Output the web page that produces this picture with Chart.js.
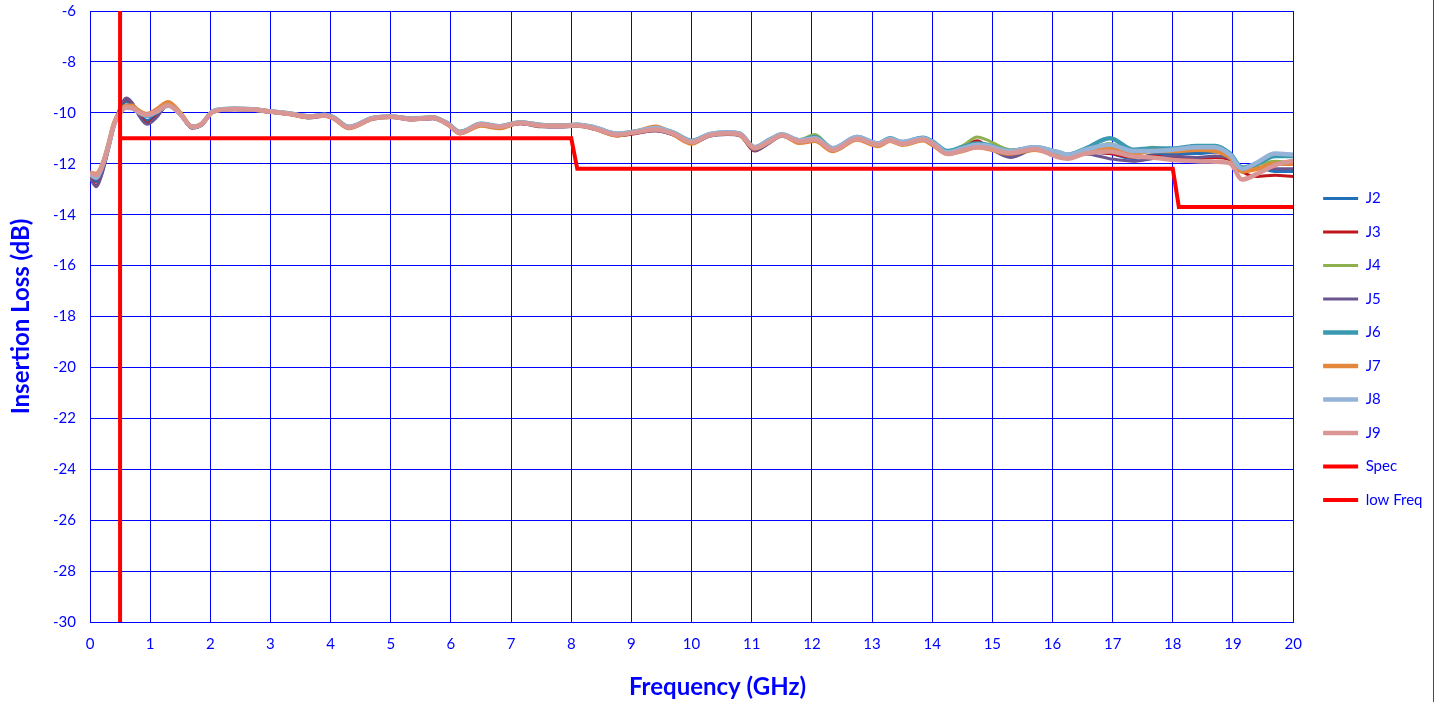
<!DOCTYPE html>
<html>
<head>
<meta charset="utf-8">
<script src="https://cdn.jsdelivr.net/npm/chart.js@4.4.1/dist/chart.umd.min.js"></script>
<style>
  html, body { margin: 0; padding: 0; background: #fff; }
  #wrap { position: relative; width: 1433px; height: 702px; border-right: 1px solid #3333ff; }
</style>
</head>
<body>
<div id="wrap"><canvas id="lossChart"></canvas></div>
<script>
// frequency points (GHz) shared by the J traces
const freq = [0, 0.1, 0.2, 0.3, 0.4, 0.5, 0.6, 0.7, 0.8, 0.95, 1.1, 1.3, 1.5, 1.7, 1.85,
  2.05, 2.4, 2.7, 3.0, 3.35, 3.65, 3.9, 4.05, 4.3, 4.7, 5.0, 5.35, 5.7, 5.95, 6.15, 6.5, 6.8, 7.15, 7.5, 7.8, 8.1,
  8.4, 8.75, 9.1, 9.4, 9.7, 10.0, 10.3, 10.6, 10.8, 11.05, 11.3, 11.5, 11.8, 12.05, 12.35, 12.75, 13.1, 13.3, 13.5, 13.85, 14.0,
  14.25, 14.5, 14.75, 14.9, 15.3, 15.7, 16.1, 16.25, 16.55,
  16.95, 17.35, 17.65, 18.0, 18.4, 18.7, 18.95, 19.15, 19.4, 19.7, 20.0];

// insertion loss (dB) per port
const j2 = [-12.45, -12.7, -12.25, -11.4, -10.45, -9.85, -9.55, -9.7, -10.0, -10.3, -10.1, -9.7, -10.05, -10.58, -10.48,
  -9.95, -9.86, -9.88, -9.97, -10.07, -10.17, -10.12, -10.22, -10.6, -10.22, -10.16, -10.26, -10.22, -10.47, -10.8, -10.47, -10.56, -10.42, -10.52, -10.54, -10.52,
  -10.64, -10.88, -10.77, -10.68, -10.85, -11.18, -10.9, -10.82, -10.87, -11.45, -11.15, -10.9, -11.15, -11.02, -11.5, -11.0, -11.27, -11.05, -11.2, -11.03, -11.18,
  -11.55, -11.4, -11.25, -11.3, -11.62, -11.45, -11.68, -11.78, -11.55,
  -11.6, -11.8, -11.65, -11.6, -11.6, -11.55, -11.7, -12.25, -12.15, -12.3, -12.3];
const j3 = [-12.5, -12.85, -12.35, -11.45, -10.48, -9.82, -9.45, -9.62, -10.0, -10.4, -10.15, -9.68, -10.05, -10.6, -10.5,
  -9.97, -9.87, -9.9, -9.98, -10.08, -10.18, -10.12, -10.22, -10.6, -10.23, -10.17, -10.27, -10.22, -10.47, -10.82, -10.47, -10.57, -10.43, -10.53, -10.55, -10.52,
  -10.64, -10.9, -10.8, -10.7, -10.86, -11.2, -10.9, -10.83, -10.88, -11.5, -11.15, -10.9, -11.1, -10.92, -11.45, -11.0, -11.25, -11.05, -11.2, -11.02, -11.15,
  -11.5, -11.35, -11.1, -11.3, -11.7, -11.42, -11.72, -11.8, -11.55,
  -11.6, -11.75, -11.7, -11.75, -11.8, -11.75, -11.85, -12.3, -12.5, -12.45, -12.5];
const j4 = [-12.4, -12.5, -12.1, -11.35, -10.45, -9.95, -9.7, -9.75, -9.95, -10.1, -9.95, -9.6, -10.02, -10.55, -10.45,
  -9.94, -9.85, -9.87, -9.95, -10.05, -10.15, -10.1, -10.2, -10.55, -10.2, -10.15, -10.25, -10.2, -10.43, -10.72, -10.45, -10.55, -10.4, -10.5, -10.5, -10.48,
  -10.6, -10.83, -10.73, -10.62, -10.8, -11.12, -10.85, -10.78, -10.83, -11.35, -11.08, -10.85, -11.05, -10.85, -11.4, -10.98, -11.22, -11.05, -11.18, -11.0, -11.15,
  -11.5, -11.3, -10.95, -11.05, -11.45, -11.38, -11.6, -11.7, -11.5,
  -11.2, -11.55, -11.35, -11.45, -11.45, -11.5, -11.7, -12.2, -12.05, -11.9, -11.95];
const j5 = [-12.55, -12.9, -12.4, -11.5, -10.5, -9.8, -9.42, -9.6, -10.05, -10.45, -10.2, -9.68, -10.05, -10.6, -10.5,
  -9.97, -9.88, -9.9, -9.98, -10.08, -10.2, -10.13, -10.23, -10.6, -10.25, -10.18, -10.28, -10.23, -10.48, -10.8, -10.48, -10.57, -10.42, -10.55, -10.56, -10.53,
  -10.66, -10.9, -10.78, -10.7, -10.87, -11.2, -10.92, -10.85, -10.9, -11.48, -11.18, -10.92, -11.15, -11.05, -11.48, -11.05, -11.28, -11.1, -11.25, -11.08, -11.22,
  -11.6, -11.45, -11.3, -11.35, -11.75, -11.45, -11.7, -11.8, -11.62,
  -11.8, -11.9, -11.8, -11.7, -11.75, -11.7, -11.8, -12.3, -12.2, -12.2, -12.2];
const j6 = [-12.4, -12.55, -12.15, -11.38, -10.45, -9.95, -9.72, -9.78, -9.97, -10.12, -9.97, -9.68, -10.05, -10.55, -10.45,
  -9.93, -9.84, -9.86, -9.94, -10.04, -10.14, -10.08, -10.18, -10.55, -10.2, -10.14, -10.23, -10.18, -10.42, -10.75, -10.43, -10.53, -10.38, -10.48, -10.5, -10.47,
  -10.58, -10.82, -10.72, -10.62, -10.78, -11.1, -10.84, -10.77, -10.82, -11.35, -11.05, -10.85, -11.08, -10.95, -11.4, -10.95, -11.2, -11.0, -11.15, -10.98, -11.12,
  -11.5, -11.35, -11.2, -11.25, -11.5, -11.35, -11.55, -11.65, -11.4,
  -11.0, -11.45, -11.4, -11.4, -11.3, -11.3, -11.6, -12.15, -12.0, -11.7, -11.7];
const j7 = [-12.35, -12.4, -12.05, -11.3, -10.4, -9.95, -9.72, -9.72, -9.9, -10.05, -9.88, -9.58, -10.0, -10.55, -10.45,
  -9.95, -9.85, -9.86, -9.95, -10.06, -10.16, -10.1, -10.22, -10.6, -10.22, -10.15, -10.24, -10.18, -10.46, -10.8, -10.5, -10.6, -10.38, -10.5, -10.5, -10.48,
  -10.63, -10.88, -10.72, -10.55, -10.85, -11.2, -10.85, -10.8, -10.86, -11.4, -11.12, -10.88, -11.18, -11.1, -11.5, -11.05, -11.3, -11.1, -11.25, -11.08, -11.25,
  -11.6, -11.5, -11.35, -11.4, -11.6, -11.45, -11.7, -11.75, -11.55,
  -11.4, -11.6, -11.5, -11.5, -11.45, -11.5, -11.75, -12.3, -12.2, -12.0, -12.0];
const j8 = [-12.4, -12.55, -12.1, -11.35, -10.45, -10.0, -9.8, -9.82, -9.97, -10.1, -9.97, -9.72, -10.05, -10.55, -10.45,
  -9.93, -9.84, -9.86, -9.95, -10.04, -10.14, -10.09, -10.19, -10.56, -10.2, -10.14, -10.24, -10.19, -10.43, -10.76, -10.44, -10.53, -10.38, -10.48, -10.5, -10.47,
  -10.58, -10.82, -10.72, -10.6, -10.78, -11.12, -10.84, -10.76, -10.82, -11.35, -11.06, -10.84, -11.08, -11.0, -11.38, -10.95, -11.2, -11.02, -11.15, -11.0, -11.15,
  -11.55, -11.4, -11.25, -11.28, -11.5, -11.35, -11.55, -11.65, -11.45,
  -11.25, -11.5, -11.5, -11.45, -11.35, -11.35, -11.65, -12.2, -11.95, -11.6, -11.65];
const j9 = [-12.35, -12.45, -12.1, -11.35, -10.45, -10.0, -9.78, -9.8, -9.95, -10.08, -9.95, -9.7, -10.05, -10.55, -10.45,
  -9.95, -9.85, -9.87, -9.95, -10.05, -10.15, -10.1, -10.2, -10.58, -10.22, -10.15, -10.25, -10.2, -10.45, -10.78, -10.45, -10.55, -10.4, -10.5, -10.52, -10.5,
  -10.62, -10.85, -10.75, -10.65, -10.82, -11.15, -10.88, -10.8, -10.85, -11.38, -11.12, -10.88, -11.12, -11.05, -11.45, -11.02, -11.25, -11.08, -11.22, -11.05, -11.2,
  -11.62, -11.48, -11.35, -11.38, -11.58, -11.42, -11.75, -11.8, -11.6,
  -11.52, -11.72, -11.75, -11.85, -11.9, -11.92, -11.98, -12.62, -12.4, -12.05, -11.88];

// spec limit and low-frequency marker
const specFreq = [0.5, 8.0, 8.1, 18.0, 18.1, 20];
const specLoss = [-11, -11, -12.2, -12.2, -13.7, -13.7];
const lowFreqX = [0.5, 0.5];
const lowFreqY = [-30, -6];

const blue = '#0000ff';
const fontName = 'Lato, "Noto Sans", sans-serif';
const legendPad = 18.5;

function toPoints(xs, ys) {
  return xs.map((x, i) => ({ x: x, y: ys[i] }));
}

const traces = [
  { label: 'J2', data: j2, color: '#2270b8', width: 3 },
  { label: 'J3', data: j3, color: '#c0161b', width: 3 },
  { label: 'J4', data: j4, color: '#8fb04f', width: 3 },
  { label: 'J5', data: j5, color: '#6b558f', width: 3 },
  { label: 'J6', data: j6, color: '#3a9ab0', width: 4.5 },
  { label: 'J7', data: j7, color: '#e3883b', width: 4.5 },
  { label: 'J8', data: j8, color: '#95b3d7', width: 4.5 },
  { label: 'J9', data: j9, color: '#d99694', width: 4.5 }
];

const datasets = traces.map((t, i) => ({
  label: t.label,
  data: toPoints(freq, t.data),
  borderColor: t.color,
  backgroundColor: t.color,
  borderWidth: t.width,
  pointRadius: 0,
  cubicInterpolationMode: 'monotone',
  order: traces.length - i
}));

datasets.push({
  label: 'Spec',
  data: toPoints(specFreq, specLoss),
  borderColor: '#ff0000',
  backgroundColor: '#ff0000',
  borderWidth: 4,
  pointRadius: 0,
  tension: 0,
  order: -1
});
datasets.push({
  label: 'low Freq',
  data: toPoints(lowFreqX, lowFreqY),
  borderColor: '#ff0000',
  backgroundColor: '#ff0000',
  borderWidth: 4,
  pointRadius: 0,
  tension: 0,
  order: -1
});

// legend block: lines start 30px right of the plot, first row at y ~198
// bottom title nudged right a little, like the original
const layoutTweaks = {
  id: 'layoutTweaks',
  afterLayout(chart) {
    const lg = chart.legend;
    const dx = chart.chartArea.right + 30 - legendPad - lg.left;
    const first = lg.top + legendPad + (lg.bottom - lg.top - legendPad - lg.columnSizes[0].height) / 2;
    const dy = 191 - first;
    lg.left += dx;
    lg.right += dx;
    lg.top += dy;
    lg.bottom += dy;

    const tb = chart.titleBlock;
    tb.left += 7;
    tb.right += 7;
  }
};

const ctx = document.getElementById('lossChart').getContext('2d');
const chart = new Chart(ctx, {
  type: 'line',
  data: { datasets: datasets },
  plugins: [layoutTweaks],
  options: {
    responsive: true,
    maintainAspectRatio: false,
    animation: false,
    layout: { padding: { top: 11, right: 12, bottom: 0, left: 0 } },
    plugins: {
      tooltip: { enabled: false },
      title: {
        display: true,
        position: 'bottom',
        text: 'Frequency (GHz)',
        color: blue,
        font: { family: fontName, size: 24, weight: 'bold' },
        padding: { top: 0, bottom: 0 }
      },
      legend: {
        position: 'right',
        labels: {
          usePointStyle: true,
          pointStyle: 'line',
          pointStyleWidth: 35,
          padding: legendPad,
          color: blue,
          font: { family: fontName, size: 15 },
          sort: (a, b) => a.datasetIndex - b.datasetIndex
        }
      }
    },
    scales: {
      x: {
        type: 'linear',
        min: 0,
        max: 20,
        ticks: { stepSize: 1, color: blue, padding: 13, font: { family: fontName, size: 15 } },
        grid: { color: blue, lineWidth: 1, drawTicks: false },
        border: { color: blue, width: 1 },
        afterFit: (scale) => { scale.height = 51.2; scale.paddingLeft = 0; }
      },
      y: {
        min: -30,
        max: -6,
        ticks: { stepSize: 2, color: blue, padding: 14, font: { family: fontName, size: 15 } },
        grid: { color: blue, lineWidth: 1, drawTicks: false },
        border: { color: blue, width: 1 },
        title: {
          display: true,
          text: 'Insertion Loss (dB)',
          color: blue,
          font: { family: fontName, size: 24, weight: 'bold' },
          padding: { top: 7, bottom: 0 }
        },
        afterFit: (scale) => { scale.width = 90; scale.paddingTop = 0; scale.paddingBottom = 0; }
      }
    }
  }
});
</script>
</body>
</html>
